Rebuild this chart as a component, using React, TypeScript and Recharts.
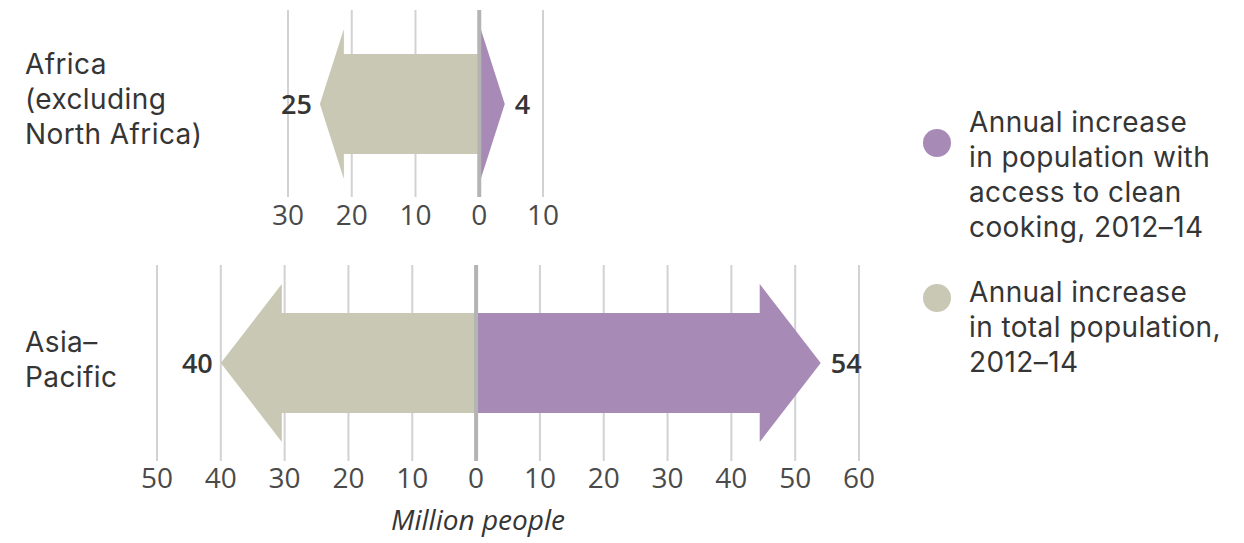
import React from "react"
import {
  BarChart,
  Bar,
  XAxis,
  YAxis,
  CartesianGrid,
  ReferenceLine,
  LabelList,
} from "recharts"

// Annual change, million people, 2012-14
const regions = ["Africa (excluding North Africa)", "Asia-Pacific"]
const totalIncrease = [25, 40]
const cleanCookingIncrease = [4, 54]

const africaTicks = [-30, -20, -10, 0, 10]
const asiaTicks = [-50, -40, -30, -20, -10, 0, 10, 20, 30, 40, 50, 60]

const GREY = "#c9c8b4"
const PURPLE = "#a78ab6"
const FONT = '"Open Sans", Lato, sans-serif'
const BLOCK_FONT = 'Inter, "Open Sans", sans-serif'
const TEXT = "#353535"

const rowFor = (i: number) => [
  { region: regions[i], total: -totalIncrease[i], cooking: cleanCookingIncrease[i] },
]

type HeadSpec = { len: number; half: number }

function Arrow(props: any) {
  const { x, y, width, height, fill, dir, head } = props
  const left = Math.min(x, x + width)
  const right = Math.max(x, x + width)
  const cy = y + height / 2
  const bh = Math.abs(height) / 2
  const hh = head.half
  let pts: number[][]
  if (dir === "right") {
    const base = Math.max(left, right - head.len)
    pts = [
      [left, cy - bh], [base, cy - bh], [base, cy - hh], [right, cy],
      [base, cy + hh], [base, cy + bh], [left, cy + bh],
    ]
  } else {
    const base = Math.min(right, left + head.len)
    pts = [
      [right, cy - bh], [base, cy - bh], [base, cy - hh], [left, cy],
      [base, cy + hh], [base, cy + bh], [right, cy + bh],
    ]
  }
  return <polygon points={pts.map((p) => p.join(",")).join(" ")} fill={fill} />
}

const valueLabel = (dir: "left" | "right") => (props: any) => {
  const vb = props.viewBox ?? props
  const { x, y, width, height } = vb
  const tip = dir === "left" ? Math.min(x, x + width) : Math.max(x, x + width)
  const cy = y + height / 2
  return (
    <text
      x={dir === "left" ? tip - 8 : tip + 10}
      y={cy}
      dy="0.36em"
      textAnchor={dir === "left" ? "end" : "start"}
      fontFamily={FONT}
      fontSize={27}
      fontWeight={600}
      fill={TEXT}
    >
      {Math.abs(Number(props.value))}
    </text>
  )
}

function Panel({
  index,
  ticks,
  width,
  height,
  margin,
  axisHeight,
  tickMargin,
  head,
}: {
  index: number
  ticks: number[]
  width: number
  height: number
  margin: { top: number; right: number; bottom: number; left: number }
  axisHeight: number
  tickMargin: number
  head: HeadSpec
}) {
  return (
    <BarChart
      width={width}
      height={height}
      data={rowFor(index)}
      layout="vertical"
      margin={margin}
      stackOffset="sign"
    >
      <CartesianGrid horizontal={false} stroke="#d2d2d2" strokeWidth={2} />
      <XAxis
        type="number"
        domain={[ticks[0], ticks[ticks.length - 1]]}
        ticks={ticks}
        interval={0}
        axisLine={false}
        tickLine={false}
        height={axisHeight}
        tickMargin={tickMargin}
        tickFormatter={(v: number) => String(Math.abs(v))}
        tick={{ fontFamily: FONT, fontSize: 28, fill: "#4a4a4a" }}
      />
      <YAxis type="category" dataKey="region" hide />
      <Bar
        dataKey="total"
        stackId="a"
        fill={GREY}
        barSize={100}
        isAnimationActive={false}
        shape={(p: any) => <Arrow {...p} dir="left" head={head} />}
      >
        <LabelList dataKey="total" content={valueLabel("left")} />
      </Bar>
      <Bar
        dataKey="cooking"
        stackId="a"
        fill={PURPLE}
        barSize={100}
        isAnimationActive={false}
        shape={(p: any) => <Arrow {...p} dir="right" head={head} />}
      >
        <LabelList dataKey="cooking" content={valueLabel("right")} />
      </Bar>
      <ReferenceLine x={0} stroke="#b4b4b4" strokeWidth={4} />
    </BarChart>
  )
}

const labelStyle: React.CSSProperties = {
  position: "absolute",
  fontFamily: BLOCK_FONT,
  fontSize: 28,
  letterSpacing: "0.4px",
  lineHeight: "35px",
  color: TEXT,
  whiteSpace: "nowrap",
}

export default function App() {
  return (
    <div
      style={{
        position: "absolute",
        left: 0,
        top: 0,
        width: 1244,
        height: 543,
        background: "#fff",
        overflow: "hidden",
      }}
    >
      <div style={{ position: "absolute", left: 0, top: 0 }}>
        <Panel
          index={0}
          ticks={africaTicks}
          width={600}
          height={240}
          margin={{ top: 10, right: 57, bottom: 3, left: 288 }}
          axisHeight={40}
          tickMargin={2}
          head={{ len: 24, half: 75 }}
        />
      </div>
      <div style={{ position: "absolute", left: 0, top: 250 }}>
        <Panel
          index={1}
          ticks={asiaTicks}
          width={920}
          height={250}
          margin={{ top: 15, right: 61, bottom: 3, left: 157 }}
          axisHeight={36}
          tickMargin={1}
          head={{ len: 61, half: 79 }}
        />
      </div>

      <div style={{ ...labelStyle, left: 25, top: 47 }}>
        Africa
        <br />
        (excluding
        <br />
        North Africa)
      </div>
      <div style={{ ...labelStyle, left: 25, top: 325 }}>
        Asia–
        <br />
        Pacific
      </div>

      <div
        style={{
          position: "absolute",
          left: 328,
          top: 503,
          width: 300,
          textAlign: "center",
          fontFamily: FONT,
          fontStyle: "italic",
          fontSize: 28,
          lineHeight: "32px",
          color: TEXT,
        }}
      >
        Million people
      </div>

      {/* legend */}
      <div style={{ position: "absolute", left: 923, top: 129, width: 28, height: 28, borderRadius: 14, background: PURPLE }} />
      <div style={{ ...labelStyle, left: 969, top: 105 }}>
        Annual increase
        <br />
        in population with
        <br />
        access to clean
        <br />
        cooking, 2012–14
      </div>
      <div style={{ position: "absolute", left: 923, top: 284, width: 28, height: 28, borderRadius: 14, background: GREY }} />
      <div style={{ ...labelStyle, left: 969, top: 275 }}>
        Annual increase
        <br />
        in total population,
        <br />
        2012–14
      </div>
    </div>
  )
}
